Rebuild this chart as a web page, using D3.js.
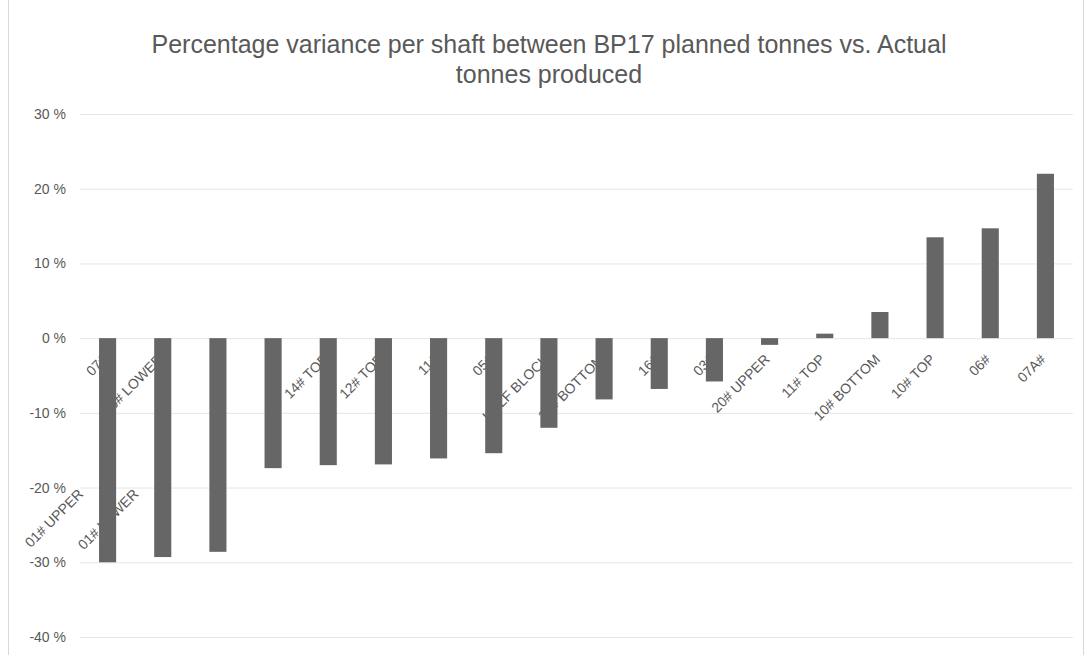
<!DOCTYPE html>
<html><head><meta charset="utf-8">
<script src="https://cdn.jsdelivr.net/npm/d3@7"></script>
<style>
html,body{margin:0;padding:0;background:#fff;}
svg text{font-family:"Liberation Sans",Arial,sans-serif;fill:#595959;}
</style></head>
<body><svg id="chart" width="1088" height="655"></svg>
<script>
const titleLines = ["Percentage variance per shaft between BP17 planned tonnes vs. Actual", "tonnes produced"];
const categories = ["07#", "10# LOWER", "01# UPPER".padEnd(58, " "), "01# LOWER".padEnd(58, " "), "14# TOP", "12# TOP", "11#", "05#",
  "HALF BLOCK", "12# BOTTOM", "16#", "03#", "20# UPPER", "11# TOP", "10# BOTTOM", "10# TOP", "06#", "07A#"];
const values = [-30.0, -29.3, -28.6, -17.4, -17.0, -16.9, -16.1, -15.4, -12.0, -8.2, -6.8, -5.8, -0.9, 0.6, 3.5, 13.5, 14.7, 22.0];
const yTicks = [-40, -30, -20, -10, 0, 10, 20, 30];

const svg = d3.select("#chart");
const W = 1088, H = 655;
const m = {left: 80, right: 15, top: 114, bottom: 18};

svg.append("rect").attr("x", 8.5).attr("y", -2).attr("width", 1075).attr("height", 670)
  .attr("fill", "#fff").attr("stroke", "#d9d9d9");

const x = d3.scaleBand().domain(categories.map((d, i) => i)).range([m.left, W - m.right]).paddingInner(0.69).paddingOuter(0.345);
const y = d3.scaleLinear().domain([-40, 30]).range([H - m.bottom, m.top]);

// title
svg.append("text").attr("x", 549).attr("y", 53).attr("text-anchor", "middle").style("font-size", "25px")
  .selectAll("tspan").data(titleLines).join("tspan").attr("x", 549).attr("dy", (d, i) => i ? 30 : 0).text(d => d);

// gridlines + y axis
const yAxis = d3.axisLeft(y).tickValues(yTicks).tickSize(-(W - m.right - m.left)).tickFormat(d => d + " %").tickPadding(14);
const ga = svg.append("g").attr("transform", `translate(${m.left},0)`).call(yAxis);
ga.select(".domain").remove();
ga.selectAll(".tick line").attr("stroke", "#e6e6e6");
ga.selectAll(".tick text").style("font-size", "14px").attr("fill", "#6a6a6a");

// category labels (drawn under bars)
const xAxis = d3.axisBottom(x).tickSize(0).tickFormat(i => categories[i]);
const gx = svg.append("g").attr("transform", `translate(0,${y(0)})`).call(xAxis);
gx.select(".domain").remove();
gx.selectAll(".tick text")
  .attr("text-anchor", "end").attr("y", 0).attr("dy", 0)
  .attr("transform", "translate(1,22) rotate(-45)")
  .style("font-size", "14px").style("white-space", "pre").attr("xml:space", "preserve")
  .attr("fill", "#6a6a6a");

// bars
svg.append("g").selectAll("rect").data(values).join("rect")
  .attr("x", (d, i) => x(i)).attr("width", x.bandwidth())
  .attr("y", d => y(Math.max(0, d))).attr("height", d => Math.abs(y(d) - y(0)))
  .attr("fill", "#666666");
</script></body></html>
